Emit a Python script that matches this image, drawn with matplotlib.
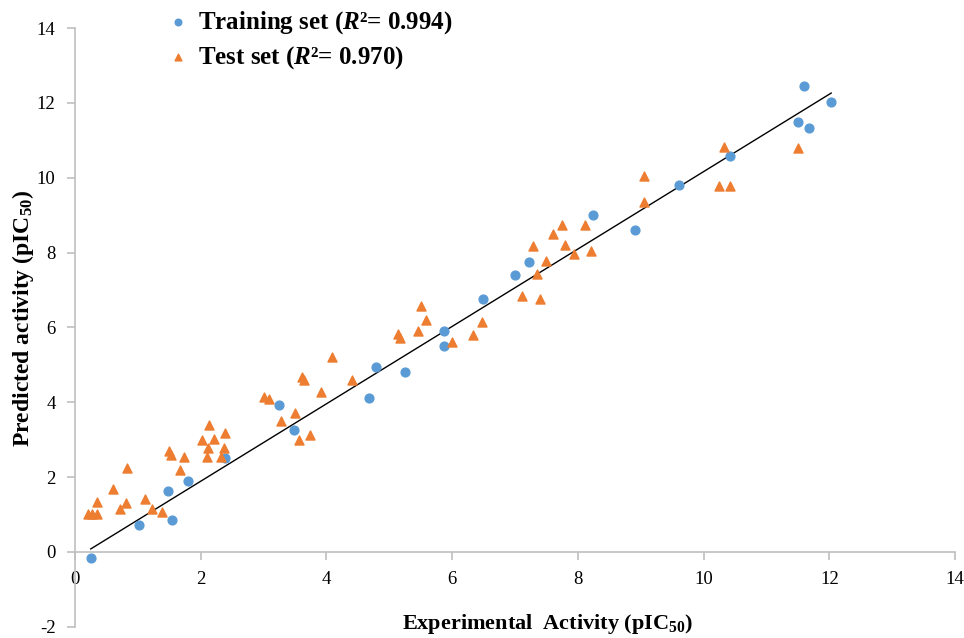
import numpy as np
import matplotlib.pyplot as plt

# Training set: experimental vs predicted pIC50
train_exp = [0.25, 1.02, 1.54, 1.48, 1.80, 2.39, 3.25, 3.48, 4.68, 4.79, 5.25, 5.87,
             5.87, 6.49, 7.00, 7.22, 8.24, 8.91, 9.61, 10.42, 11.50, 11.60, 11.68, 12.03]
train_pred = [-0.16, 0.72, 0.85, 1.62, 1.89, 2.50, 3.93, 3.27, 4.12, 4.94, 4.81, 5.50,
              5.90, 6.77, 7.39, 7.76, 9.01, 8.61, 9.80, 10.57, 11.50, 12.46, 11.32, 12.01]

# Test set
test_exp = [0.20, 0.27, 0.35, 0.35, 0.60, 0.72, 0.81, 0.83, 1.11, 1.22, 1.38, 1.50,
            1.52, 1.67, 1.73, 2.02, 2.10, 2.11, 2.13, 2.21, 2.32, 2.37, 2.39, 3.01,
            3.09, 3.28, 3.50, 3.56, 3.74, 3.61, 3.64, 3.91, 4.09, 4.41, 5.14, 5.17,
            5.46, 5.50, 5.58, 6.00, 6.33, 6.47, 7.11, 7.40, 7.35, 7.49, 7.29, 7.60,
            7.75, 7.79, 7.94, 8.11, 8.21, 9.05, 9.05, 10.32, 10.24, 10.42, 11.50]
test_pred = [1.02, 1.02, 1.33, 1.01, 1.68, 1.15, 1.31, 2.24, 1.41, 1.15, 1.06, 2.70,
             2.58, 2.18, 2.55, 2.98, 2.55, 2.79, 3.38, 3.03, 2.55, 2.79, 3.19, 4.14,
             4.09, 3.51, 3.72, 2.98, 3.13, 4.68, 4.60, 4.28, 5.21, 4.60, 5.82, 5.71,
             5.90, 6.56, 6.19, 5.61, 5.79, 6.14, 6.85, 6.77, 7.44, 7.78, 8.18, 8.50,
             8.74, 8.21, 7.97, 8.74, 8.05, 9.35, 10.04, 10.81, 9.78, 9.78, 10.79]

train_label = r'Training set ($R$²= 0.994)'
test_label = r'Test set ($R$²= 0.970)'

plt.rcParams['font.family'] = ['Liberation Serif', 'DejaVu Serif']
plt.rcParams['mathtext.fontset'] = 'custom'
plt.rcParams['mathtext.rm'] = 'Liberation Serif:bold'
plt.rcParams['mathtext.it'] = 'Liberation Serif:bold:italic'
plt.rcParams['mathtext.bf'] = 'Liberation Serif:bold'
plt.rcParams['axes.unicode_minus'] = False

blue = '#5B9BD5'
orange = '#ED7D31'
axis_gray = '#BFBFBF'

fig = plt.figure(figsize=(9.64, 6.38), dpi=100)
ax = fig.add_axes([0.0778, 0.0175, 0.9129, 0.9386])

ax.scatter(train_exp, train_pred, s=40, marker='o', color=blue, zorder=3, label=train_label)
ax.scatter(test_exp, test_pred, s=42, marker='^', color=orange, zorder=3, label=test_label)

# linear trend line of the training set
slope, intercept = np.polyfit(train_exp, train_pred, 1)
xs = np.array([min(train_exp), max(train_exp)])
ax.plot(xs, slope * xs + intercept, color='black', lw=1.0, zorder=2)

ax.set_xlim(0, 14)
ax.set_ylim(-2, 14)
ax.set_xticks(np.arange(0, 15, 2))
ax.set_yticks(np.arange(-2, 15, 2))

for side in ['top', 'right']:
    ax.spines[side].set_visible(False)
ax.spines['bottom'].set_position(('data', 0))
ax.spines['left'].set_color(axis_gray)
ax.spines['bottom'].set_color(axis_gray)
ax.spines['left'].set_linewidth(1.2)
ax.spines['bottom'].set_linewidth(1.2)
ax.tick_params(axis='both', direction='out', length=6, width=1.2, color=axis_gray,
               labelsize=13.5, pad=8)

ax.set_xlabel(r'Experimental  Activity (pIC$_{50}$)', fontsize=16, fontweight='bold')
ax.xaxis.set_label_coords(0.5375, 0.024)
ax.set_ylabel(r'Predicted activity (pIC$_{50}$)', fontsize=17, fontweight='bold')
ax.yaxis.set_label_coords(-0.044, 0.515)

ax.legend(loc='upper left', bbox_to_anchor=(0.1717, 0.985), bbox_transform=fig.transFigure,
          frameon=False, prop={'weight': 'bold', 'size': 18}, handlelength=1.0,
          handletextpad=0.3, borderpad=0, borderaxespad=0, labelspacing=0.3,
          markerscale=0.75)

fig.savefig('out.png', dpi=100)
